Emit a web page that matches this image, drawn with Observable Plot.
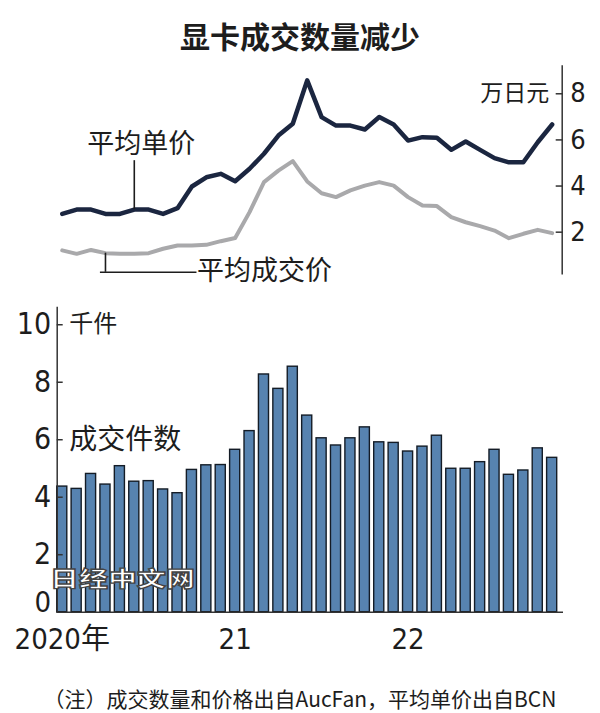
<!DOCTYPE html>
<html>
<head>
<meta charset="utf-8">
<script src="https://cdn.jsdelivr.net/npm/d3@7"></script>
<script src="https://cdn.jsdelivr.net/npm/@observablehq/plot@0.6"></script>
<style>
  body { margin: 0; background: #fff; }
  #wrap { position: relative; width: 600px; height: 713px; overflow: hidden; font-family: "Noto Sans CJK SC", sans-serif; color: #1d1d1d; }
  #title { position: absolute; left: 0; top: 17px; width: 600px; text-align: center; font-size: 30px; font-weight: 700; line-height: 36px; }
  #top { position: absolute; left: 0; top: 60px; }
  #bottom { position: absolute; left: 0; top: 290px; }
  #note { position: absolute; left: 0; top: 686px; width: 600px; text-align: center; font-size: 21px; line-height: 24px; }
  #wm { position: absolute; left: 50px; top: 566px; font-size: 21px; line-height: 22px; font-weight: 900; color: #fff;
        -webkit-text-stroke: 1.3px #444; transform: scaleX(1.38); transform-origin: left center; white-space: nowrap; }
  svg { display: block; }
</style>
</head>
<body>
<div id="wrap">
  <div id="title">显卡成交数量减少</div>
  <div id="top"></div>
  <div id="bottom"></div>
  <div id="wm">日经中文网</div>
  <div id="note">（注）成交数量和价格出自AucFan，平均单价出自BCN</div>
</div>
<script>
// ---- data (Jan 2020 – Nov 2022, monthly) ----
const months = d3.utcMonth.range(new Date(Date.UTC(2020, 0, 1)), new Date(Date.UTC(2022, 11, 1))).map(d3.utcFormat("%Y-%m"));
// 成交件数 (千件)
const dealCount = [4.37,4.29,4.81,4.44,5.08,4.54,4.56,4.27,4.14,4.95,5.11,5.12,5.65,6.30,8.27,7.77,8.54,6.84,6.05,5.80,6.05,6.43,5.91,5.89,5.59,5.76,6.14,4.99,4.99,5.22,5.65,4.78,4.93,5.70,5.37];
// 平均单价 (万日元)
const avgUnitPrice = [2.79,2.98,2.98,2.79,2.79,2.98,2.98,2.79,3.04,3.98,4.38,4.53,4.21,4.75,5.40,6.19,6.70,8.58,6.99,6.62,6.62,6.45,6.99,6.67,5.97,6.12,6.09,5.57,5.93,5.57,5.21,5.03,5.03,5.90,6.67];
// 平均成交价 (万日元)
const avgDealPrice = [1.21,1.06,1.23,1.09,1.06,1.06,1.09,1.28,1.42,1.42,1.45,1.61,1.75,2.87,4.17,4.67,5.08,4.20,3.69,3.52,3.81,4.02,4.17,4.02,3.52,3.16,3.13,2.65,2.43,2.26,2.07,1.74,1.93,2.10,1.96];
const priceTicks = [2, 4, 6, 8];
const countTicks = [0, 2, 4, 6, 8, 10];
const yearTicks = ["2020-01", "2021-01", "2022-01"];
const yearLabels = ["2020年", "21", "22"];

const rows = months.map((m, i) => ({month: m, count: dealCount[i], unit: avgUnitPrice[i], deal: avgDealPrice[i]}));
const numFont = '"Liberation Sans Narrow","DejaVu Sans Condensed","Arial Narrow","Noto Sans CJK SC",sans-serif';
const cjkFont = '"Noto Sans CJK SC",sans-serif';
const ink = "#1d1d1d";

// ---- top: price lines ----
const topPlot = Plot.plot({
  width: 600, height: 230,
  marginLeft: 51.7, marginRight: 38.3, marginTop: 5.6, marginBottom: 16.8,
  style: {color: ink, background: "transparent", overflow: "visible"},
  x: {type: "band", domain: months, paddingInner: 0.3, paddingOuter: 0.347, round: false, axis: null},
  y: {domain: [0.2, 9.2], axis: null},
  marks: [
    Plot.frame({anchor: "right", stroke: "#333", strokeWidth: 1.5}),
    Plot.axisY({anchor: "right", ticks: priceTicks, tickSize: -7, tickPadding: 15, fontSize: 27, fontFamily: numFont, stroke: "#333", strokeWidth: 1.5, label: null}),
    Plot.text(["万日元"], {frameAnchor: "right", y: [priceTicks[3]], dx: -13, textAnchor: "end", fontSize: 23, fontFamily: cjkFont, fill: ink}),
    Plot.line(rows, {x: "month", y: "deal", stroke: "#a9a9ab", strokeWidth: 4, curve: "linear"}),
    Plot.line(rows, {x: "month", y: "unit", stroke: "#1b2640", strokeWidth: 4.5, curve: "linear"}),
    // 平均单价 label + leader
    Plot.ruleX([rows[5]], {x: "month", y1: "unit", y2: () => 5.1, stroke: ink, strokeWidth: 1.6}),
    Plot.text([rows[5]], {x: "month", y: () => 5.8, text: () => "平均单价", dx: 7, fontSize: 27, fontFamily: cjkFont, fill: ink}),
    // 平均成交价 label + leader
    Plot.ruleX([rows[3]], {x: "month", y1: "deal", y2: () => 0.26, stroke: ink, strokeWidth: 1.6}),
    Plot.ruleY([0.26], {x1: () => months[3], x2: () => months[9], stroke: ink, strokeWidth: 1.6}),
    Plot.text([rows[9]], {x: "month", y: () => 0.3, text: () => "平均成交价", textAnchor: "start", dx: 5, fontSize: 27, fontFamily: cjkFont, fill: ink})
  ]
});
document.getElementById("top").append(topPlot);

// ---- bottom: deal counts ----
const bottomPlot = Plot.plot({
  width: 600, height: 375,
  marginLeft: 56.7, marginRight: 43.3, marginTop: 17, marginBottom: 53.3,
  style: {color: ink, background: "transparent", overflow: "visible"},
  x: {type: "band", domain: months, paddingInner: 0.3, paddingOuter: 0, round: false, axis: null},
  y: {domain: [0, 10.6], axis: null},
  marks: [
    Plot.barY(rows, {x: "month", y: "count", fill: "#5783b0", stroke: "#141c26", strokeWidth: 1.4}),
    Plot.frame({anchor: "left", stroke: "#333", strokeWidth: 1.5}),
    Plot.ruleY([0], {stroke: "#333", strokeWidth: 1.5, insetRight: -6.3}),
    Plot.axisY({anchor: "left", ticks: countTicks.slice(1), tickSize: -6, tickPadding: 12, fontSize: 30, fontFamily: numFont, stroke: "#333", strokeWidth: 1.5, label: null}),
    Plot.text([countTicks[0]], {y: d => d, frameAnchor: "left", dx: -6, textAnchor: "end", lineAnchor: "bottom", dy: 0, fontSize: 29, fontFamily: numFont, fill: ink}),
    Plot.axisX({ticks: yearTicks, tickFormat: d => yearLabels[yearTicks.indexOf(d)], tickSize: 0, tickPadding: 16, fontSize: 29, fontFamily: numFont, label: null}),
    Plot.text(["千件"], {frameAnchor: "left", y: [countTicks[5]], dx: 12, textAnchor: "start", fontSize: 24, fontFamily: cjkFont, fill: ink}),
    Plot.text(["成交件数"], {frameAnchor: "left", y: [countTicks[3]], dx: 12, textAnchor: "start", fontSize: 28, fontFamily: cjkFont, fill: ink})
  ]
});
document.getElementById("bottom").append(bottomPlot);
</script>
</body>
</html>
